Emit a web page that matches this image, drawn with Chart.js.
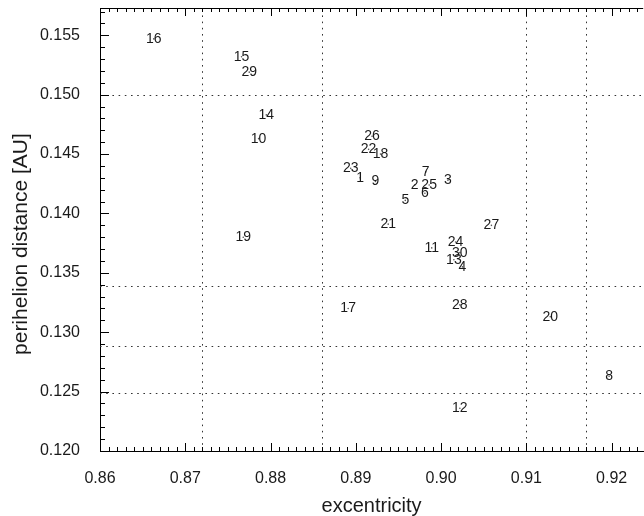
<!DOCTYPE html>
<html>
<head>
<meta charset="utf-8">
<script src="https://cdn.jsdelivr.net/npm/chart.js@4/dist/chart.umd.min.js"></script>
<style>
html,body{margin:0;padding:0;background:#fff;}
#wrap{width:644px;height:516px;position:relative;}
</style>
</head>
<body>
<div id="wrap"><canvas id="c" width="644" height="516"></canvas></div>
<script>
// ---- data ----
const cometLabels = ['1','2','3','4','5','6','7','8','9','10',
                     '11','12','13','14','15','16','17','18','19','20',
                     '21','22','23','24','25','26','27','28','29','30'];
const excentricity = [0.8905, 0.8969, 0.9008, 0.9025, 0.8958, 0.8981, 0.8982, 0.9197, 0.8923, 0.8786,
                      0.8989, 0.9022, 0.9015, 0.8795, 0.8766, 0.8663, 0.8891, 0.8929, 0.8768, 0.9128,
                      0.8938, 0.8915, 0.8894, 0.9017, 0.8986, 0.8919, 0.9059, 0.9022, 0.8775, 0.9022];
const perihelion   = [0.1430, 0.1424, 0.1428, 0.1355, 0.1411, 0.1417, 0.1435, 0.1263, 0.1427, 0.1463,
                      0.1371, 0.1236, 0.1361, 0.1483, 0.1532, 0.1547, 0.1320, 0.1450, 0.1380, 0.1313,
                      0.1391, 0.1454, 0.1438, 0.1376, 0.1424, 0.1465, 0.1390, 0.1323, 0.1519, 0.1367];
const xTickValues = [0.86, 0.87, 0.88, 0.89, 0.90, 0.91, 0.92];
const yTickValues = [0.120, 0.125, 0.130, 0.135, 0.140, 0.145, 0.150, 0.155];
const gridX = [0.872, 0.886, 0.910, 0.917];
const gridY = [0.1500, 0.1339, 0.1288, 0.1249];
const xRange = [0.86, 0.9237];
const yRange = [0.120, 0.1573];

const points = excentricity.map((x, i) => ({x: x, y: perihelion[i]}));

const FONT = "'Liberation Sans', Arial, Helvetica, sans-serif";
const INK = '#1a1a1a';

const gnuplotFrame = {
  id: 'gnuplotFrame',
  beforeDatasetsDraw(chart) {
    const {ctx, chartArea: a, scales: {x, y}} = chart;
    ctx.save();
    ctx.beginPath();
    ctx.rect(a.left, a.top, a.right - a.left, a.bottom - a.top);
    ctx.clip();
    ctx.strokeStyle = '#333';
    ctx.lineWidth = 1;
    ctx.setLineDash([1.6, 4.6]);
    gridX.forEach(v => {
      const px = Math.round(x.getPixelForValue(v)) + 0.5;
      ctx.beginPath(); ctx.moveTo(px, a.bottom); ctx.lineTo(px, a.top); ctx.stroke();
    });
    gridY.forEach(v => {
      const py = Math.round(y.getPixelForValue(v)) + 0.5;
      ctx.beginPath(); ctx.moveTo(a.left, py); ctx.lineTo(a.right, py); ctx.stroke();
    });
    ctx.restore();
  },
  afterDraw(chart) {
    const {ctx, chartArea: a, scales: {x, y}} = chart;
    ctx.save();
    ctx.strokeStyle = '#000';
    ctx.lineWidth = 1;
    ctx.setLineDash([]);
    // top border of the frame
    ctx.beginPath();
    ctx.moveTo(a.left, Math.round(a.top) + 0.5);
    ctx.lineTo(a.right, Math.round(a.top) + 0.5);
    ctx.stroke();
    // x ticks (bottom and mirrored on top), pointing inward
    const xs = Math.round(xRange[0] * 1000), xe = Math.floor(xRange[1] * 1000);
    for (let i = xs; i <= xe; i++) {
      const px = Math.round(x.getPixelForValue(i / 1000)) + 0.5;
      const len = (i % 10 === 0) ? 8 : 4;
      ctx.beginPath();
      ctx.moveTo(px, a.bottom); ctx.lineTo(px, a.bottom - len);
      ctx.moveTo(px, a.top); ctx.lineTo(px, a.top + len);
      ctx.stroke();
    }
    // y ticks (left), pointing inward
    const ys = Math.round(yRange[0] * 1000), ye = Math.floor(yRange[1] * 1000);
    for (let i = ys; i <= ye; i++) {
      const py = Math.round(y.getPixelForValue(i / 1000)) + 0.5;
      const len = (i % 5 === 0) ? 9 : 5;
      ctx.beginPath();
      ctx.moveTo(a.left, py); ctx.lineTo(a.left + len, py);
      ctx.stroke();
    }
    ctx.restore();
  },
  afterDatasetsDraw(chart) {
    const {ctx} = chart;
    const meta = chart.getDatasetMeta(0);
    ctx.save();
    ctx.font = "14px " + FONT;
    ctx.fillStyle = INK;
    ctx.textAlign = 'center';
    ctx.textBaseline = 'middle';
    meta.data.forEach((el, i) => {
      ctx.fillText(cometLabels[i], el.x, el.y);
    });
    ctx.restore();
  }
};

new Chart(document.getElementById('c'), {
  type: 'scatter',
  data: {
    datasets: [{
      data: points,
      pointRadius: 0.8,
      pointHoverRadius: 0.8,
      pointBackgroundColor: '#555',
      pointBorderWidth: 0,
      showLine: false
    }]
  },
  options: {
    responsive: false,
    animation: false,
    events: [],
    layout: {padding: {top: 8, right: 0, left: 0, bottom: 0}},
    plugins: {legend: {display: false}, tooltip: {enabled: false}},
    scales: {
      x: {
        type: 'linear',
        position: 'bottom',
        min: xRange[0],
        max: xRange[1],
        grid: {display: false},
        border: {display: true, color: '#000', width: 1},
        afterBuildTicks: s => { s.ticks = xTickValues.map(v => ({value: v})); },
        ticks: {
          autoSkip: false,
          maxRotation: 0,
          padding: 10,
          color: INK,
          font: {size: 16, family: FONT},
          callback: v => Number(v).toFixed(2)
        },
        title: {
          display: true,
          text: 'excentricity',
          color: INK,
          font: {size: 20, family: FONT, lineHeight: 1},
          padding: {top: 0, bottom: 0}
        },
        afterFit: s => { s.height = 65; s.paddingLeft = 0; s.paddingRight = 0; }
      },
      y: {
        type: 'linear',
        position: 'left',
        min: yRange[0],
        max: yRange[1],
        grid: {display: false},
        border: {display: true, color: '#000', width: 1},
        afterBuildTicks: s => { s.ticks = yTickValues.map(v => ({value: v})); },
        ticks: {
          autoSkip: false,
          padding: 12,
          color: INK,
          font: {size: 16, family: FONT},
          callback: v => Number(v).toFixed(3)
        },
        title: {
          display: true,
          text: 'perihelion distance [AU]     ',
          color: INK,
          font: {size: 21, family: FONT, lineHeight: 1.2},
          padding: {top: 9, bottom: 0}
        },
        afterFit: s => { s.width = 100; s.paddingTop = 0; s.paddingBottom = 0; }
      }
    }
  },
  plugins: [gnuplotFrame]
});
</script>
</body>
</html>
